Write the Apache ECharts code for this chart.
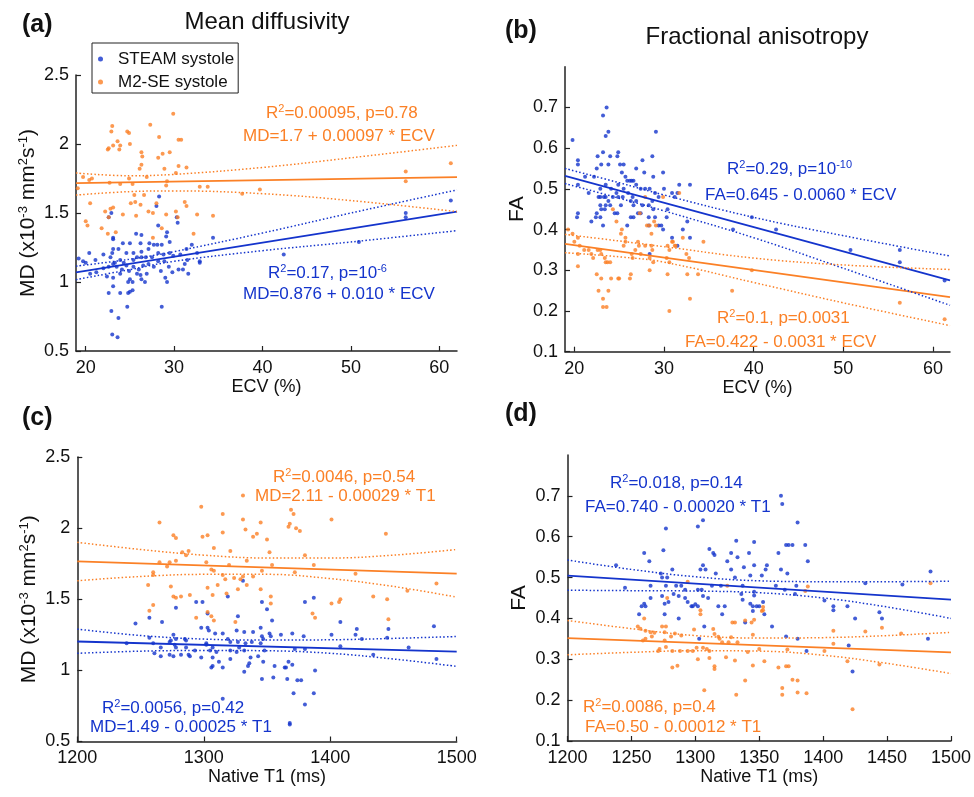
<!DOCTYPE html>
<html><head><meta charset="utf-8">
<script src="https://cdn.jsdelivr.net/npm/echarts@6/dist/echarts.min.js"></script>
<style>html,body{margin:0;padding:0;background:#fff}#c{width:974px;height:797px}</style>
</head><body><div id="c"></div>
<script>
// ---------- data ----------
const ecvTicks = [20, 30, 40, 50, 60];
const t1TicksC = [1200, 1300, 1400, 1500];
const t1TicksD = [1200, 1250, 1300, 1350, 1400, 1450, 1500];
const mdTicks = [0.5, 1, 1.5, 2, 2.5];
const faTicks = [0.1, 0.2, 0.3, 0.4, 0.5, 0.6, 0.7];
const seriesNames = ['STEAM systole', 'M2-SE systole'];

// (a) MD vs ECV
const mdEcvSteam = [[28.3,1.62],[28.0,1.55],[22.6,1.47],[22.9,1.50],[23.1,1.32],[23.1,1.31],[25.7,1.35],[26.3,1.34],[27.2,1.28],[27.7,1.27],[28.1,1.27],[28.6,1.27],[29.1,1.33],[29.2,1.36],[29.5,1.29],[28.2,1.41],[30.3,1.47],[30.4,1.43],[24.2,1.28],[25.0,1.28],[26.2,1.28],[27.1,1.24],[26.3,1.22],[25.4,1.21],[24.6,1.21],[23.7,1.24],[23.1,1.24],[23.0,1.21],[22.8,1.18],[22.0,1.20],[20.4,1.21],[21.1,1.16],[19.7,1.15],[20.0,1.14],[19.2,1.17],[23.3,1.14],[23.9,1.16],[24.3,1.14],[25.4,1.16],[25.8,1.18],[26.3,1.18],[26.8,1.18],[27.5,1.18],[28.2,1.21],[28.8,1.20],[29.5,1.21],[29.9,1.19],[30.7,1.20],[31.4,1.24],[32.0,1.27],[32.6,1.21],[32.9,1.15],[32.9,1.14],[34.4,1.32],[31.5,1.16],[31.2,1.13],[30.5,1.09],[31.0,1.09],[31.6,1.06],[29.4,1.11],[28.9,1.15],[28.2,1.15],[27.7,1.11],[27.1,1.13],[26.5,1.12],[26.0,1.09],[25.4,1.11],[24.9,1.08],[24.6,1.12],[24.1,1.09],[23.5,1.11],[23.1,1.13],[22.6,1.11],[22.0,1.10],[21.2,1.07],[20.5,1.06],[23.9,1.06],[24.8,1.00],[25.0,1.02],[25.3,1.00],[25.8,1.06],[26.2,1.05],[26.3,1.02],[26.9,1.06],[28.5,1.08],[29.0,1.03],[29.2,1.00],[29.8,1.07],[26.7,1.00],[22.4,1.04],[23.1,1.03],[22.6,0.92],[23.1,0.97],[23.9,0.92],[24.8,0.92],[25.0,0.93],[25.3,0.94],[24.7,0.82],[28.6,0.82],[22.9,0.79],[23.7,0.74],[23.0,0.62],[23.6,0.60],[56.2,1.50],[56.2,1.47],[61.3,1.59],[50.9,1.29],[42.4,1.20]];
const mdEcvM2se = [[29.9,2.22],[27.3,2.14],[23.0,2.13],[22.9,2.09],[24.7,2.09],[24.9,2.08],[23.6,2.02],[28.3,2.05],[30.5,2.03],[30.8,2.03],[23.1,1.99],[23.9,1.99],[22.5,1.96],[22.6,1.97],[23.8,1.96],[25.0,2.00],[29.5,1.94],[28.7,1.93],[28.2,1.90],[26.3,1.94],[26.4,1.91],[26.3,1.85],[26.1,1.82],[28.9,1.82],[30.5,1.84],[31.4,1.83],[30.2,1.79],[19.7,1.76],[20.4,1.74],[20.7,1.75],[24.9,1.75],[26.9,1.76],[29.2,1.73],[29.1,1.70],[19.1,1.68],[22.7,1.72],[23.9,1.71],[25.3,1.71],[32.9,1.69],[33.8,1.69],[37.7,1.64],[39.7,1.67],[25.5,1.63],[26.6,1.63],[20.5,1.57],[25.1,1.57],[26.2,1.56],[25.6,1.58],[28.0,1.57],[31.4,1.55],[31.2,1.58],[22.8,1.53],[23.1,1.54],[22.2,1.51],[27.1,1.51],[27.6,1.50],[29.1,1.49],[30.2,1.51],[30.4,1.47],[32.6,1.49],[34.4,1.48],[20.0,1.44],[20.2,1.41],[24.2,1.49],[25.7,1.48],[21.8,1.39],[22.5,1.35],[23.4,1.36],[27.6,1.32],[28.6,1.39],[32.2,1.35],[22.6,1.47],[56.2,1.80],[56.2,1.73],[61.3,1.86]];
const mdEcvSteamFit = [[18.9,1.07],[62,1.51]];
const mdEcvSteamHi = [[18.9,1.115],[25,1.165],[30,1.22],[40,1.355],[50,1.50],[62,1.667]];
const mdEcvSteamLo = [[18.9,1.017],[25,1.09],[30,1.15],[40,1.227],[50,1.29],[62,1.372]];
const mdEcvM2seFit = [[18.9,1.716],[62,1.76]];
const mdEcvM2seHi = [[18.9,1.79],[25,1.77],[30,1.78],[40,1.83],[50,1.90],[62,1.99]];
const mdEcvM2seLo = [[18.9,1.63],[25,1.655],[30,1.66],[40,1.64],[50,1.59],[62,1.51]];

// (b) FA vs ECV
const faEcvSteam = [[23.6,0.70],[23.2,0.68],[23.5,0.63],[23.8,0.64],[19.8,0.62],[23.2,0.59],[22.6,0.58],[24.0,0.58],[24.8,0.58],[24.9,0.59],[29.1,0.64],[28.7,0.58],[20.4,0.57],[20.4,0.56],[23.0,0.56],[23.8,0.56],[25.1,0.56],[25.5,0.56],[22.5,0.55],[27.6,0.57],[26.9,0.55],[25.3,0.54],[25.7,0.53],[21.2,0.53],[22.2,0.53],[29.9,0.54],[27.8,0.54],[28.8,0.53],[25.9,0.52],[26.2,0.52],[26.4,0.52],[26.6,0.52],[24.9,0.51],[20.4,0.51],[21.6,0.49],[22.9,0.50],[23.5,0.51],[24.1,0.50],[24.7,0.49],[25.5,0.50],[26.9,0.51],[27.4,0.50],[27.9,0.50],[28.4,0.50],[29.0,0.49],[29.4,0.48],[30.0,0.50],[31.7,0.51],[32.9,0.51],[30.9,0.49],[31.2,0.48],[31.5,0.49],[22.7,0.48],[22.9,0.48],[23.3,0.48],[23.5,0.48],[24.9,0.48],[25.4,0.48],[26.0,0.49],[26.5,0.48],[23.8,0.47],[24.3,0.48],[25.2,0.46],[26.3,0.47],[26.6,0.46],[23.5,0.46],[22.9,0.46],[23.0,0.45],[23.4,0.45],[24.0,0.46],[22.5,0.44],[26.9,0.47],[27.6,0.46],[28.3,0.46],[28.7,0.47],[28.8,0.45],[28.3,0.43],[27.4,0.44],[26.3,0.43],[26.6,0.43],[27.1,0.44],[30.4,0.45],[30.3,0.43],[29.0,0.43],[29.7,0.41],[29.4,0.41],[28.3,0.41],[25.9,0.41],[24.5,0.44],[24.8,0.44],[22.9,0.43],[22.4,0.43],[20.3,0.43],[20.4,0.44],[21.9,0.42],[23.2,0.41],[29.9,0.40],[30.9,0.38],[31.5,0.36],[32.6,0.42],[32.1,0.40],[32.9,0.38],[28.4,0.34],[37.7,0.40],[39.8,0.43],[42.5,0.40],[50.8,0.35],[56.3,0.35],[56.3,0.32],[61.3,0.275]];
const faEcvM2se = [[19.3,0.40],[19.8,0.39],[20.4,0.38],[20.0,0.37],[20.6,0.36],[21.1,0.35],[20.4,0.34],[20.4,0.31],[21.6,0.35],[21.9,0.34],[22.1,0.33],[22.6,0.35],[22.9,0.35],[23.0,0.34],[23.4,0.33],[23.5,0.32],[23.7,0.32],[24.0,0.32],[24.3,0.45],[24.7,0.42],[25.2,0.39],[25.3,0.40],[25.7,0.38],[25.7,0.37],[25.5,0.36],[26.4,0.34],[26.5,0.33],[26.8,0.35],[27.1,0.37],[27.2,0.36],[27.4,0.34],[27.9,0.48],[27.3,0.44],[28.1,0.41],[28.4,0.41],[28.6,0.39],[28.9,0.42],[29.1,0.41],[28.6,0.36],[28.7,0.35],[27.9,0.36],[28.4,0.33],[28.8,0.32],[28.4,0.30],[29.9,0.48],[30.4,0.36],[30.6,0.35],[30.9,0.37],[31.0,0.37],[31.2,0.36],[31.3,0.36],[30.3,0.33],[30.6,0.32],[31.7,0.49],[32.1,0.38],[32.5,0.34],[32.8,0.33],[34.4,0.37],[33.8,0.29],[32.6,0.29],[30.4,0.29],[22.5,0.29],[23.0,0.28],[24.1,0.28],[24.9,0.28],[25.0,0.28],[26.3,0.29],[26.2,0.28],[22.7,0.25],[23.8,0.25],[23.2,0.23],[23.2,0.21],[23.6,0.21],[32.9,0.23],[30.6,0.20],[37.6,0.25],[39.8,0.30],[56.3,0.22],[61.3,0.18]];
const faEcvSteamFit = [[18.96,0.532],[61.9,0.275]];
const faEcvSteamHi = [[18.96,0.55],[25,0.515],[30,0.485],[40,0.43],[50,0.385],[61.9,0.335]];
const faEcvSteamLo = [[18.96,0.513],[25,0.477],[30,0.446],[40,0.38],[50,0.305],[61.9,0.214]];
const faEcvM2seFit = [[18.96,0.365],[61.9,0.234]];
const faEcvM2seHi = [[18.96,0.388],[25,0.372],[30,0.358],[40,0.33],[50,0.313],[61.9,0.302]];
const faEcvM2seLo = [[18.96,0.343],[25,0.333],[30,0.32],[40,0.27],[50,0.22],[61.9,0.164]];

// (c) MD vs native T1
const mdT1Steam = [[1299,1.48],[1294,1.48],[1278,1.44],[1246,1.33],[1257,1.37],[1267,1.34],[1303,1.40],[1331,1.63],[1319,1.52],[1327,1.38],[1346,1.48],[1350,1.43],[1276,1.25],[1257,1.23],[1278,1.22],[1298,1.30],[1303,1.30],[1304,1.28],[1309,1.26],[1315,1.26],[1326,1.28],[1332,1.27],[1339,1.27],[1345,1.30],[1346,1.24],[1347,1.22],[1239,1.19],[1260,1.19],[1273,1.20],[1274,1.21],[1277,1.18],[1278,1.16],[1285,1.22],[1286,1.21],[1286,1.16],[1293,1.14],[1302,1.19],[1302,1.18],[1307,1.16],[1305,1.14],[1319,1.22],[1321,1.20],[1327,1.20],[1328,1.16],[1333,1.19],[1338,1.20],[1345,1.19],[1261,1.12],[1266,1.16],[1266,1.10],[1273,1.11],[1276,1.10],[1282,1.11],[1288,1.11],[1289,1.10],[1298,1.09],[1310,1.13],[1321,1.14],[1326,1.13],[1332,1.14],[1337,1.09],[1343,1.10],[1307,1.09],[1307,1.03],[1312,1.06],[1315,1.02],[1306,1.02],[1321,1.08],[1336,1.05],[1335,1.03],[1332,0.99],[1346,0.94],[1315,0.80],[1380,1.48],[1387,1.51],[1354,1.35],[1408,1.34],[1421,1.29],[1446,1.29],[1482,1.31],[1352,1.26],[1353,1.24],[1361,1.25],[1370,1.26],[1379,1.24],[1401,1.25],[1420,1.25],[1425,1.22],[1445,1.23],[1348,1.14],[1372,1.15],[1380,1.15],[1408,1.17],[1462,1.16],[1434,1.11],[1484,1.08],[1347,1.06],[1356,1.03],[1364,1.02],[1365,1.02],[1367,1.06],[1370,1.04],[1388,1.00],[1355,0.95],[1366,0.94],[1374,0.93],[1377,0.93],[1371,0.84],[1387,0.84],[1380,0.76],[1368,0.63],[1368,0.62]];
const mdT1M2se = [[1331,2.23],[1298,2.15],[1315,2.10],[1265,2.04],[1331,2.06],[1345,2.04],[1333,1.99],[1315,1.97],[1276,1.95],[1278,1.93],[1303,1.95],[1299,1.94],[1339,1.94],[1342,1.96],[1308,1.86],[1321,1.84],[1288,1.84],[1283,1.83],[1286,1.81],[1278,1.77],[1273,1.76],[1265,1.76],[1271,1.73],[1302,1.76],[1320,1.74],[1334,1.77],[1306,1.71],[1308,1.70],[1260,1.69],[1260,1.67],[1317,1.64],[1324,1.65],[1331,1.66],[1329,1.64],[1339,1.66],[1346,1.70],[1315,1.67],[1256,1.60],[1274,1.59],[1303,1.58],[1311,1.60],[1327,1.57],[1334,1.60],[1345,1.57],[1307,1.53],[1318,1.54],[1276,1.52],[1278,1.51],[1282,1.52],[1289,1.53],[1260,1.46],[1257,1.42],[1303,1.41],[1306,1.38],[1294,1.37],[1308,1.35],[1325,1.34],[1369,2.13],[1371,2.10],[1367,2.01],[1368,2.03],[1373,2.00],[1376,1.98],[1401,2.06],[1444,1.96],[1350,1.92],[1352,1.83],[1380,1.81],[1354,1.74],[1387,1.74],[1372,1.69],[1420,1.68],[1484,1.61],[1461,1.56],[1434,1.52],[1353,1.52],[1353,1.47],[1401,1.47],[1407,1.48],[1408,1.50],[1445,1.50],[1386,1.40],[1388,1.37],[1446,1.36]];
const mdT1SteamFit = [[1200,1.203],[1500,1.132]];
const mdT1SteamHi = [[1200,1.29],[1250,1.245],[1300,1.22],[1350,1.213],[1400,1.215],[1450,1.225],[1500,1.238]];
const mdT1SteamLo = [[1200,1.12],[1250,1.135],[1300,1.14],[1350,1.138],[1400,1.12],[1450,1.08],[1500,1.028]];
const mdT1M2seFit = [[1200,1.766],[1500,1.68]];
const mdT1M2seHi = [[1200,1.90],[1250,1.85],[1300,1.81],[1350,1.79],[1400,1.79],[1450,1.81],[1500,1.85]];
const mdT1M2seLo = [[1200,1.63],[1250,1.66],[1300,1.675],[1350,1.675],[1400,1.645],[1450,1.59],[1500,1.515]];

// (d) FA vs native T1
const faT1Steam = [[1238,0.53],[1245,0.475],[1260,0.436],[1277,0.62],[1275,0.567],[1260,0.56],[1264,0.54],[1256,0.41],[1258,0.43],[1261,0.43],[1265,0.45],[1265,0.48],[1274,0.50],[1273,0.51],[1274,0.455],[1276,0.436],[1276,0.41],[1277,0.48],[1278,0.50],[1279,0.44],[1282,0.52],[1283,0.46],[1285,0.48],[1287,0.455],[1287,0.40],[1289,0.48],[1292,0.45],[1292,0.47],[1294,0.44],[1297,0.43],[1298,0.43],[1300,0.435],[1302,0.625],[1306,0.64],[1302,0.47],[1302,0.43],[1304,0.52],[1306,0.53],[1308,0.52],[1306,0.455],[1305,0.47],[1307,0.38],[1303,0.35],[1311,0.57],[1314,0.56],[1315,0.555],[1310,0.45],[1313,0.48],[1316,0.51],[1320,0.48],[1318,0.43],[1321,0.41],[1323,0.43],[1325,0.54],[1328,0.56],[1328,0.52],[1332,0.59],[1346,0.587],[1333,0.55],[1342,0.56],[1338,0.525],[1346,0.53],[1356,0.53],[1355,0.52],[1343,0.505],[1352,0.505],[1331,0.50],[1337,0.48],[1365,0.56],[1371,0.58],[1373,0.58],[1376,0.58],[1367,0.70],[1368,0.68],[1380,0.635],[1386,0.58],[1388,0.54],[1367,0.52],[1372,0.51],[1363,0.48],[1379,0.48],[1370,0.47],[1378,0.46],[1336,0.46],[1346,0.465],[1346,0.456],[1337,0.446],[1343,0.436],[1345,0.43],[1348,0.43],[1350,0.43],[1353,0.44],[1345,0.418],[1354,0.41],[1339,0.39],[1360,0.38],[1371,0.356],[1380,0.35],[1387,0.32],[1401,0.444],[1408,0.43],[1408,0.42],[1419,0.43],[1425,0.40],[1420,0.334],[1423,0.27],[1433,0.486],[1444,0.415],[1446,0.40],[1462,0.483],[1482,0.35],[1484,0.515]];
const faT1M2se = [[1294,0.49],[1278,0.45],[1325,0.48],[1304,0.42],[1304,0.41],[1260,0.40],[1255,0.38],[1257,0.375],[1261,0.37],[1265,0.366],[1266,0.356],[1259,0.346],[1261,0.35],[1268,0.365],[1274,0.38],[1277,0.38],[1276,0.366],[1276,0.346],[1281,0.356],[1284,0.363],[1289,0.358],[1272,0.325],[1271,0.32],[1277,0.33],[1282,0.32],[1288,0.32],[1294,0.32],[1298,0.32],[1301,0.328],[1306,0.328],[1309,0.325],[1311,0.32],[1314,0.374],[1315,0.362],[1318,0.355],[1319,0.35],[1321,0.342],[1326,0.342],[1299,0.373],[1302,0.30],[1311,0.303],[1315,0.283],[1315,0.276],[1324,0.305],[1282,0.28],[1286,0.284],[1307,0.224],[1329,0.39],[1331,0.39],[1339,0.395],[1344,0.39],[1346,0.397],[1352,0.418],[1353,0.428],[1353,0.42],[1328,0.354],[1333,0.342],[1345,0.36],[1341,0.318],[1350,0.325],[1331,0.297],[1345,0.285],[1354,0.295],[1339,0.248],[1332,0.213],[1365,0.28],[1371,0.283],[1373,0.283],[1376,0.25],[1380,0.248],[1368,0.23],[1368,0.213],[1380,0.219],[1387,0.217],[1372,0.324],[1386,0.467],[1388,0.478],[1401,0.32],[1408,0.37],[1408,0.338],[1419,0.295],[1423,0.178],[1433,0.368],[1446,0.377],[1444,0.287],[1461,0.363],[1484,0.486]];
const faT1SteamFit = [[1200,0.505],[1500,0.446]];
const faT1SteamHi = [[1200,0.543],[1250,0.52],[1300,0.502],[1350,0.492],[1400,0.49],[1450,0.49],[1500,0.491]];
const faT1SteamLo = [[1200,0.469],[1250,0.468],[1300,0.467],[1350,0.463],[1400,0.45],[1450,0.428],[1500,0.40]];
const faT1M2seFit = [[1200,0.352],[1500,0.317]];
const faT1M2seHi = [[1200,0.395],[1250,0.375],[1300,0.358],[1350,0.352],[1400,0.353],[1450,0.358],[1500,0.366]];
const faT1M2seLo = [[1200,0.311],[1250,0.317],[1300,0.321],[1350,0.32],[1400,0.31],[1450,0.29],[1500,0.265]];

// ---------- styling ----------
const BLUE = '#1434cc', ORANGE = '#fb8026', INK = '#111', AX = '#222';
const FONT = "'Liberation Sans', Arial, Helvetica, sans-serif";
const fmt = v => String(v);

function xAx(gi, min, max, ticks, name, gap) {
  return { type: 'value', gridIndex: gi, min, max, name, nameLocation: 'middle', nameGap: gap,
    nameTextStyle: { fontSize: 18, color: INK, fontFamily: FONT },
    axisLine: { show: true, onZero: false, lineStyle: { color: AX, width: 1.5 } },
    axisTick: { show: true, inside: true, length: 5, customValues: ticks, lineStyle: { color: AX, width: 1.2 } },
    axisLabel: { customValues: ticks, formatter: fmt, fontSize: 18, color: INK, margin: 8, fontFamily: FONT },
    splitLine: { show: false } };
}
function yAx(gi, min, max, ticks, name, gap) {
  return { type: 'value', gridIndex: gi, min, max, name, nameLocation: 'middle', nameGap: gap, nameRotate: 90,
    nameTextStyle: { fontSize: 21, color: INK, fontFamily: FONT, lineHeight: 24,
      rich: { s: { fontSize: 13, color: INK, fontFamily: FONT, padding: [0, 0, 9, 0] } } },
    axisLine: { show: true, onZero: false, lineStyle: { color: AX, width: 1.5 } },
    axisTick: { show: true, inside: true, length: 5, customValues: ticks, lineStyle: { color: AX, width: 1.2 } },
    axisLabel: { customValues: ticks, formatter: fmt, fontSize: 18, color: INK, margin: 7, fontFamily: FONT },
    splitLine: { show: false } };
}
const series = [];
function panel(gi, steam, m2se, sFit, sHi, sLo, mFit, mHi, mLo) {
  const base = { xAxisIndex: gi, yAxisIndex: gi, silent: true };
  series.push(Object.assign({ type: 'scatter', name: seriesNames[0], data: steam, symbolSize: 4, itemStyle: { color: BLUE } }, base));
  series.push(Object.assign({ type: 'scatter', name: seriesNames[1], data: m2se, symbolSize: 4, itemStyle: { color: ORANGE } }, base));
  [[sFit, BLUE], [mFit, ORANGE]].forEach(([d, c]) => series.push(Object.assign({ type: 'line', name: 'fit', data: d, showSymbol: false, lineStyle: { color: c, width: 1.8 }, z: 3 }, base)));
  [[sHi, BLUE], [sLo, BLUE], [mHi, ORANGE], [mLo, ORANGE]].forEach(([d, c]) => series.push(Object.assign({ type: 'line', name: 'ci', data: d, showSymbol: false, smooth: 0.4, lineStyle: { color: c, width: 1.5, type: [1.5, 2.2] }, z: 3 }, base)));
}
panel(0, mdEcvSteam, mdEcvM2se, mdEcvSteamFit, mdEcvSteamHi, mdEcvSteamLo, mdEcvM2seFit, mdEcvM2seHi, mdEcvM2seLo);
panel(1, faEcvSteam, faEcvM2se, faEcvSteamFit, faEcvSteamHi, faEcvSteamLo, faEcvM2seFit, faEcvM2seHi, faEcvM2seLo);
panel(2, mdT1Steam, mdT1M2se, mdT1SteamFit, mdT1SteamHi, mdT1SteamLo, mdT1M2seFit, mdT1M2seHi, mdT1M2seLo);
panel(3, faT1Steam, faT1M2se, faT1SteamFit, faT1SteamHi, faT1SteamLo, faT1M2seFit, faT1M2seHi, faT1M2seLo);

function rich(c) {
  return { n: { fontSize: 17, fontFamily: FONT, fill: c, lineHeight: 20 },
           s: { fontSize: 11, fontFamily: FONT, fill: c, padding: [0, 0, 8, 0] } };
}
function note(x, y, text, c) {
  return { type: 'text', x, y, z: 50, style: { text, rich: rich(c), fill: c, textAlign: 'left', textVerticalAlign: 'middle' } };
}
function plain(x, y, text, font, align) {
  return { type: 'text', x, y, z: 50, style: { text, font, fill: INK, textAlign: align, textVerticalAlign: 'middle' } };
}
const MDNAME = 'MD (x10{s|-3} mm{s|2}s{s|-1})';

const option = {
  animation: false,
  backgroundColor: '#fff',
  grid: [
    { left: 76, top: 75, width: 381, height: 276 },
    { left: 565, top: 66.7, width: 385, height: 285 },
    { left: 77.3, top: 457, width: 379.4, height: 284.5 },
    { left: 567.5, top: 455, width: 383.5, height: 286 }
  ],
  xAxis: [
    xAx(0, 18.9, 62, ecvTicks, 'ECV (%)', 22),
    xAx(1, 18.96, 61.9, ecvTicks, 'ECV (%)', 22),
    xAx(2, 1200, 1500, t1TicksC, 'Native T1 (ms)', 27),
    xAx(3, 1200, 1500, t1TicksD, 'Native T1 (ms)', 27)
  ],
  yAxis: [
    yAx(0, 0.5, 2.5, mdTicks, MDNAME, 20),
    yAx(1, 0.1, 0.8, faTicks, 'FA', 36),
    yAx(2, 0.5, 2.5, mdTicks, MDNAME, 21),
    yAx(3, 0.1, 0.8, faTicks, 'FA', 36)
  ],
  legend: {
    left: 92, top: 43, orient: 'vertical', data: seriesNames, icon: 'circle',
    itemWidth: 25, itemHeight: 5, itemGap: 3, padding: [6, 4, 1, 6],
    borderColor: AX, borderWidth: 1, backgroundColor: '#fff', selectedMode: false,
    textStyle: { fontSize: 17, fontFamily: FONT, color: INK, lineHeight: 20 }
  },
  series,
  graphic: [
    plain(267, 22, 'Mean diffusivity', '24px ' + FONT, 'center'),
    plain(757, 37, 'Fractional anisotropy', '24px ' + FONT, 'center'),
    plain(22, 25, '(a)', 'bold 25px ' + FONT, 'left'),
    plain(505, 31, '(b)', 'bold 25px ' + FONT, 'left'),
    plain(22, 418, '(c)', 'bold 25px ' + FONT, 'left'),
    plain(505, 414, '(d)', 'bold 25px ' + FONT, 'left'),
    note(266, 113, '{n|R}{s|2}{n|=0.00095, p=0.78}', ORANGE),
    note(243, 136, '{n|MD=1.7 + 0.00097 * ECV}', ORANGE),
    note(268, 273, '{n|R}{s|2}{n|=0.17, p=10}{s|-6}', BLUE),
    note(243, 294, '{n|MD=0.876 + 0.010 * ECV}', BLUE),
    note(727, 169, '{n|R}{s|2}{n|=0.29, p=10}{s|-10}', BLUE),
    note(705, 195, '{n|FA=0.645 - 0.0060 * ECV}', BLUE),
    note(717, 318, '{n|R}{s|2}{n|=0.1, p=0.0031}', ORANGE),
    note(685, 342, '{n|FA=0.422 - 0.0031 * ECV}', ORANGE),
    note(273, 477, '{n|R}{s|2}{n|=0.0046, p=0.54}', ORANGE),
    note(255, 496, '{n|MD=2.11 - 0.00029 * T1}', ORANGE),
    note(102, 708, '{n|R}{s|2}{n|=0.0056, p=0.42}', BLUE),
    note(90, 727, '{n|MD=1.49 - 0.00025 * T1}', BLUE),
    note(610, 483, '{n|R}{s|2}{n|=0.018, p=0.14}', BLUE),
    note(585, 507, '{n|FA=0.740 - 0.00020 * T1}', BLUE),
    note(583, 707, '{n|R}{s|2}{n|=0.0086, p=0.4}', ORANGE),
    note(585, 727, '{n|FA=0.50 - 0.00012 * T1}', ORANGE)
  ]
};
const chart = echarts.init(document.getElementById('c'), null, { renderer: 'canvas' });
chart.setOption(option);
</script></body></html>
